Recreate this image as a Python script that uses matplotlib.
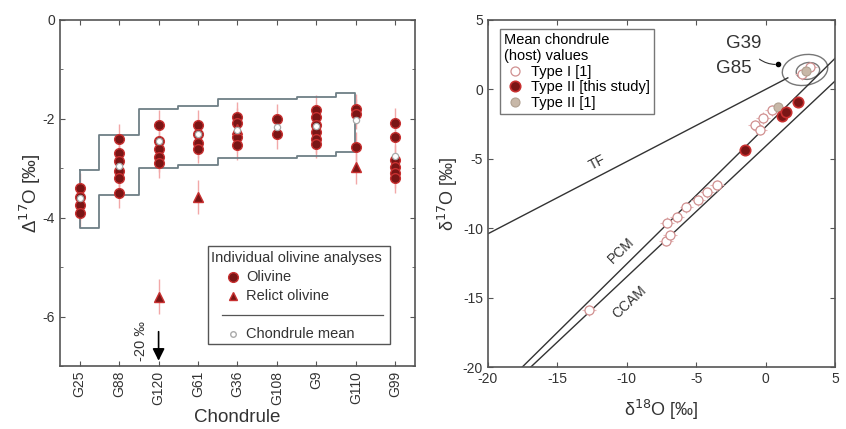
import matplotlib
matplotlib.use("Agg")
import matplotlib.pyplot as plt
from matplotlib.patches import Ellipse, Rectangle
import numpy as np

plt.rcParams['font.family'] = ['Liberation Sans', 'DejaVu Sans']
plt.rcParams['axes.unicode_minus'] = False

# ---------------- Left panel data ----------------
chondrules = ["G25", "G88", "G120", "G61", "G36", "G108", "G9", "G110", "G99"]
olivine = {
    "G25": [-3.4, -3.58, -3.75, -3.9],
    "G88": [-2.4, -2.7, -2.85, -3.05, -3.2, -3.5],
    "G120": [-2.13, -2.45, -2.62, -2.78, -2.9],
    "G61": [-2.13, -2.3, -2.49, -2.6],
    "G36": [-1.96, -2.09, -2.37, -2.53],
    "G108": [-2.0, -2.3],
    "G9": [-1.82, -1.97, -2.12, -2.27, -2.4, -2.5],
    "G110": [-1.8, -1.9, -2.57],
    "G99": [-2.08, -2.37, -2.83, -2.97, -3.1, -3.2],
}
relict_names = ["G120", "G61", "G36", "G110"]
relict_vals = [-5.6, -3.58, -2.2, -2.97]
mean_vals = [-3.6, -2.95, -2.45, -2.3, -2.23, -2.17, -2.15, -2.02, -2.75]
ol_err = 0.3
relict_err = 0.35
# envelope (step) edges and levels
env_edges = [1.0, 1.5, 2.5, 3.5, 4.5, 6.5, 7.5, 7.97]
env_upper = [-3.04, -2.33, -1.80, -1.74, -1.60, -1.55, -1.48]
env_lower = [-4.21, -3.54, -3.00, -2.93, -2.80, -2.75, -2.67]
arrow_cat = "G120"
arrow_from, arrow_to = -6.25, -6.95

# ---------------- Right panel data ----------------
typeI_x = [-12.7, -7.2, -6.9, -7.1, -6.4, -5.7, -4.9, -4.2, -3.5,
           -0.76, -0.4, -0.2, 0.46, 2.6, 3.2]
typeI_y = [-15.9, -10.9, -10.5, -9.6, -9.2, -8.5, -8.0, -7.4, -6.9,
           -2.57, -2.9, -2.06, -1.5, 1.1, 1.6]
typeII_x = [-1.5, 1.2, 1.5, 2.3]
typeII_y = [-4.4, -1.9, -1.6, -0.9]
typeII1_x = [0.9, 2.9]
typeII1_y = [-1.3, 1.3]
tf_slope, tf_int, tf_range = 0.52, 0.0, (-20, 1.6)
pcm_slope, pcm_int = 0.987, -2.70
ccam_slope, ccam_int = 0.94, -4.1
ell_centers = [(2.84, 1.4), (3.05, 1.33)]
ell_sizes = [(3.3, 2.2), (1.7, 1.2)]
g_labels = ["G39", "G85"]
g_label_pos = [(-1.6, 3.3), (-2.3, 1.5)]

fig = plt.figure(figsize=(8.46, 4.29), dpi=100)
axL = fig.add_axes([0.0709, 0.1469, 0.4196, 0.8065])
axR = fig.add_axes([0.5768, 0.1445, 0.4102, 0.8089])

spine_c = '#555555'
txt_c = '#333333'
red_face = '#7a1515'
red_edge = '#c83030'
err_c = '#f2a8a8'
FS = 10.5

# ---- left ----
xpos = {n: i + 1 for i, n in enumerate(chondrules)}
for n in chondrules:
    v = olivine[n]
    xs = [xpos[n]] * len(v)
    axL.errorbar(xs, v, yerr=ol_err, fmt='none', ecolor=err_c, elinewidth=1.0, zorder=2)
    axL.plot(xs, v, 'o', ms=7, mfc=red_face, mec=red_edge, mew=1.0, zorder=4)
rx = [xpos[n] for n in relict_names]
axL.errorbar(rx, relict_vals, yerr=relict_err, fmt='none', ecolor=err_c, elinewidth=1.0, zorder=2)
axL.plot(rx, relict_vals, '^', ms=7, mfc=red_face, mec=red_edge, mew=1.0, zorder=4)
axL.plot([xpos[n] for n in chondrules], mean_vals, 'o', ms=4.5, mfc='white', mec='#aaaaaa', mew=0.9, zorder=5)

# envelope
ux, uy, lx, ly = [], [], [], []
for i in range(len(env_upper)):
    ux += [env_edges[i], env_edges[i + 1]]
    uy += [env_upper[i], env_upper[i]]
    lx += [env_edges[i], env_edges[i + 1]]
    ly += [env_lower[i], env_lower[i]]
px = ux + lx[::-1] + [ux[0]]
py = uy + ly[::-1] + [uy[0]]
axL.plot(px, py, color='#6e7f86', lw=1.3, zorder=3)

axL.annotate('', xy=(xpos[arrow_cat], arrow_to), xytext=(xpos[arrow_cat], arrow_from),
             arrowprops=dict(arrowstyle='-|>', color='black', lw=1.2, mutation_scale=18))
axL.text(xpos[arrow_cat] - 0.45, -6.5, '-20 ‰', rotation=90, ha='center', va='center',
         fontsize=FS, color=txt_c)

axL.set_xlim(0.5, 9.5)
axL.set_ylim(-7, 0)
axL.set_xticks(range(1, 10))
axL.set_xticklabels(chondrules, rotation=90)
axL.set_yticks([0, -2, -4, -6])
axL.set_yticks([-1, -3, -5, -7], minor=True)
axL.tick_params(direction='in', which='both', top=True, right=True, colors=spine_c,
                labelcolor=txt_c, labelsize=10)
axL.set_xlabel('Chondrule', fontsize=13.5, color=txt_c, labelpad=3)
axL.set_ylabel('Δ$^{17}$O [‰]', fontsize=13.5, color=txt_c, labelpad=0)

# manual legend
T = axL.transAxes
axL.add_patch(Rectangle((0.417, 0.064), 0.513, 0.283, transform=T, fill=True, fc='white',
                        ec=spine_c, lw=1.0, zorder=6))
axL.text(0.425, 0.312, 'Individual olivine analyses', transform=T, fontsize=FS, va='center', zorder=7, color=txt_c)
axL.plot([0.487], [0.257], 'o', ms=7, mfc=red_face, mec=red_edge, transform=T, zorder=7)
axL.text(0.525, 0.257, 'Olivine', transform=T, fontsize=FS, va='center', zorder=7, color=txt_c)
axL.plot([0.487], [0.202], '^', ms=6, mfc=red_face, mec=red_edge, transform=T, zorder=7)
axL.text(0.525, 0.202, 'Relict olivine', transform=T, fontsize=FS, va='center', zorder=7, color=txt_c)
axL.plot([0.456, 0.91], [0.147, 0.147], color=spine_c, lw=0.9, transform=T, zorder=7)
axL.plot([0.487], [0.092], 'o', ms=4, mfc='white', mec='#aaaaaa', transform=T, zorder=7)
axL.text(0.525, 0.092, 'Chondrule mean', transform=T, fontsize=FS, va='center', zorder=7, color=txt_c)

# ---- right ----
xx = np.array([-20, 5])
tfx = np.array(tf_range)
axR.plot(tfx, tf_slope * tfx + tf_int, color=txt_c, lw=1.0)
axR.plot(xx, pcm_slope * xx + pcm_int, color=txt_c, lw=1.0)
axR.plot(xx, ccam_slope * xx + ccam_int, color=txt_c, lw=1.0)
for (c, s) in zip(ell_centers, ell_sizes):
    axR.add_patch(Ellipse(c, s[0], s[1], angle=10, fill=False, ec='#777777', lw=1.0))

axR.errorbar(typeI_x, typeI_y, xerr=0.5, yerr=0.4, fmt='none', ecolor='#e8b8b8', elinewidth=0.8, zorder=2)
axR.plot(typeI_x, typeI_y, 'o', ms=6.5, mfc='white', mec='#d09090', mew=0.9, zorder=3, label='Type I [1]')
axR.plot(typeII_x, typeII_y, 'o', ms=7.5, mfc=red_face, mec=red_edge, mew=1.2, zorder=4, label='Type II [this study]')
axR.plot(typeII1_x, typeII1_y, 'o', ms=6.5, mfc='#c8b8a8', mec='#b0a090', mew=0.8, zorder=3, label='Type II [1]')

axR.text(-12.1, -5.3, 'TF', rotation=27.5, ha='center', va='center', fontsize=10, color=txt_c)
axR.text(-10.4, -11.6, 'PCM', rotation=44, ha='center', va='center', fontsize=10, color=txt_c)
axR.text(-9.8, -15.3, 'CCAM', rotation=43, ha='center', va='center', fontsize=10, color=txt_c)
for lab, pos in zip(g_labels, g_label_pos):
    axR.text(pos[0], pos[1], lab, ha='center', va='center', fontsize=13.5, color=txt_c)
axR.annotate('', xy=(0.9, 1.8), xytext=(-0.6, 2.3),
             arrowprops=dict(arrowstyle='-', color=txt_c, lw=0.8, connectionstyle='arc3,rad=0.2'))
axR.plot([0.9], [1.8], 'o', ms=3, color='black')

axR.set_xlim(-20, 5)
axR.set_ylim(-20, 5)
axR.set_xticks([-20, -15, -10, -5, 0, 5])
axR.set_yticks([5, 0, -5, -10, -15, -20])
axR.tick_params(direction='in', which='both', top=True, right=True, colors=spine_c,
                labelcolor=txt_c, labelsize=10)
axR.set_xlabel('δ$^{18}$O [‰]', fontsize=13, color=txt_c, labelpad=9)
axR.set_ylabel('δ$^{17}$O [‰]', fontsize=13, color=txt_c, labelpad=2)
leg = axR.legend(loc='upper left', bbox_to_anchor=(0.035, 0.975), title='Mean chondrule\n(host) values',
                 fontsize=FS, title_fontsize=FS, frameon=True, fancybox=False, edgecolor=spine_c,
                 alignment='left', handletextpad=0.4, borderpad=0.3, labelspacing=0.1, handlelength=1.4,
                 borderaxespad=0)
leg.get_frame().set_linewidth(1.0)

for ax in (axL, axR):
    for s in ax.spines.values():
        s.set_color(spine_c)
        s.set_linewidth(1.2)

fig.savefig('out.png', dpi=100)
